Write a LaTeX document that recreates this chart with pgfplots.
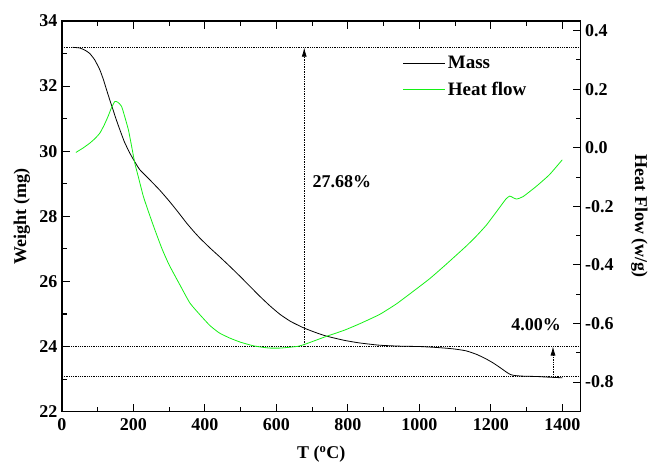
\documentclass[border=0pt]{standalone}
\usepackage{fontspec}
\setmainfont{Liberation Serif}
\usepackage{pgfplots}
\pgfplotsset{compat=1.18}
\usetikzlibrary{arrows.meta}
\definecolor{hfgreen}{RGB}{20,240,20}
\begin{document}
\begin{tikzpicture}[font=\fontsize{18}{21}\selectfont\bfseries]
\pgfplotsset{
  every axis/.append style={
    scale only axis, width=519pt, height=391pt,
    xmin=0, xmax=1451,
    axis line style={line width=1.4pt},
    major tick length=8pt, minor tick length=5pt,
    every tick/.style={line width=1.1pt, black},
    tick align=inside,
    /pgf/number format/assume math mode=true,
    /pgf/number format/set thousands separator={},
    tick label style={font=\fontsize{18}{21}\selectfont\bfseries},
    label style={font=\fontsize{19}{22}\selectfont\bfseries},
  }
}
\begin{axis}[name=main,
  ymin=22, ymax=34,
  xtick={0,200,...,1400}, minor x tick num=1,
  ytick={22,24,...,34}, minor y tick num=1,
  ytick pos=left, xtick pos=both,
  xticklabel={\textbf{\pgfmathprintnumber{\tick}}},
  yticklabel={\textbf{\pgfmathprintnumber{\tick}}},
  xticklabel style={yshift=-3pt},
  yticklabel style={xshift=-1pt},
  every axis x label/.style={at={(axis description cs:0.5,0)}, anchor=center, yshift=-43pt},
  every axis y label/.style={at={(axis description cs:0,0.5)}, anchor=center, xshift=-40pt, rotate=90},
  xlabel={T (\textsuperscript{o}C)},
  ylabel={Weight (mg)},
  clip=false,
  legend style={draw=none, fill=none, at={(rel axis cs:0.655,0.918)}, anchor=north west,
    font=\fontsize{19}{22}\selectfont\bfseries, row sep=8pt, inner sep=1pt},
  legend cell align=left,
  legend image code/.code={\draw[#1, line width=1.1pt] (0pt,0pt) -- (42pt,0pt);},
]
\addplot[black, line width=0.8pt, smooth, tension=0.3] coordinates {
(30,33.19) (50,33.17) (65,33.10) (78,33.0) (92,32.80) (106,32.5) (116,32.2) (125,31.88) (134,31.57) (143,31.27) (152,30.97) (162,30.66) (175,30.28) (190,29.94) (204,29.67) (218,29.43) (245,29.13) (274,28.80) (300,28.47) (325,28.13) (349,27.79) (370,27.52) (386,27.33) (414,27.03) (442,26.75) (470,26.46) (498,26.16) (526,25.85) (554,25.54) (582,25.25) (610,24.99) (640,24.77) (677,24.57) (710,24.43) (740,24.32) (790,24.19) (833,24.11) (889,24.04) (950,24.01) (1001,24.0) (1050,23.97) (1094,23.93) (1130,23.87) (1160,23.76) (1185,23.63) (1206,23.50) (1225,23.36) (1243,23.22) (1255,23.14) (1267,23.11) (1290,23.09) (1327,23.08) (1360,23.06) (1400,23.04)
};
\addlegendentry{Mass}
\addlegendimage{color=hfgreen}
\addlegendentry{Heat flow}
\addplot[black, densely dotted, line width=0.8pt, forget plot] coordinates {(0,33.18) (1451,33.18)};
\addplot[black, densely dotted, line width=0.8pt, forget plot] coordinates {(0,24.0) (1451,24.0)};
\addplot[black, densely dotted, line width=0.8pt, forget plot] coordinates {(0,23.08) (1451,23.08)};
\addplot[black, densely dotted, line width=0.7pt, -{Latex[length=9pt,width=5pt]}, forget plot] coordinates {(678,24.0) (678,33.18)};
\addplot[black, densely dotted, line width=0.7pt, -{Latex[length=9pt,width=5pt]}, forget plot] coordinates {(1374,23.08) (1374,24.0)};
\node at (axis cs:783,29.07) {27.68\%};
\node at (axis cs:1327,24.67) {4.00\%};
\end{axis}
\begin{axis}[
  ymin=-0.901, ymax=0.433,
  axis x line=none, axis y line*=right,
  ytick={-0.8,-0.6,-0.4,-0.2,0,0.2,0.4}, minor y tick num=1,
  yticklabel={\textbf{\pgfmathprintnumber[fixed,fixed zerofill,precision=1]{\tick}}},
  yticklabel style={xshift=1pt},
  every axis y label/.style={at={(axis description cs:1,0.5)}, anchor=center, xshift=59pt, rotate=-90},
  ylabel={Heat Flow (w/g)},
]
\addplot[hfgreen, line width=0.8pt, smooth, tension=0.3] coordinates {
(39,-0.016) (60,0.0) (78,0.016) (92,0.031) (106,0.050) (118,0.077) (129,0.107) (138,0.135) (148,0.158) (157,0.155) (167,0.141) (176,0.105) (186,0.061) (195,0.005) (204,-0.053) (216,-0.110) (228,-0.167) (244,-0.225) (260,-0.280) (280,-0.345) (300,-0.400) (330,-0.468) (358,-0.530) (386,-0.570) (414,-0.607) (440,-0.632) (470,-0.650) (500,-0.664) (535,-0.676) (560,-0.681) (582,-0.684) (610,-0.684) (638,-0.681) (660,-0.678) (675,-0.673) (700,-0.662) (740,-0.644) (790,-0.623) (833,-0.601) (889,-0.569) (936,-0.533) (982,-0.491) (1029,-0.447) (1075,-0.398) (1131,-0.336) (1160,-0.301) (1187,-0.265) (1210,-0.228) (1230,-0.195) (1243,-0.174) (1253,-0.165) (1262,-0.170) (1272,-0.175) (1290,-0.167) (1327,-0.132) (1364,-0.092) (1400,-0.041)
};
\end{axis}
\path ([shift={(-62pt,-52pt)}]main.south west) rectangle ([shift={(70pt,21pt)}]main.north east);
\end{tikzpicture}
\end{document}
